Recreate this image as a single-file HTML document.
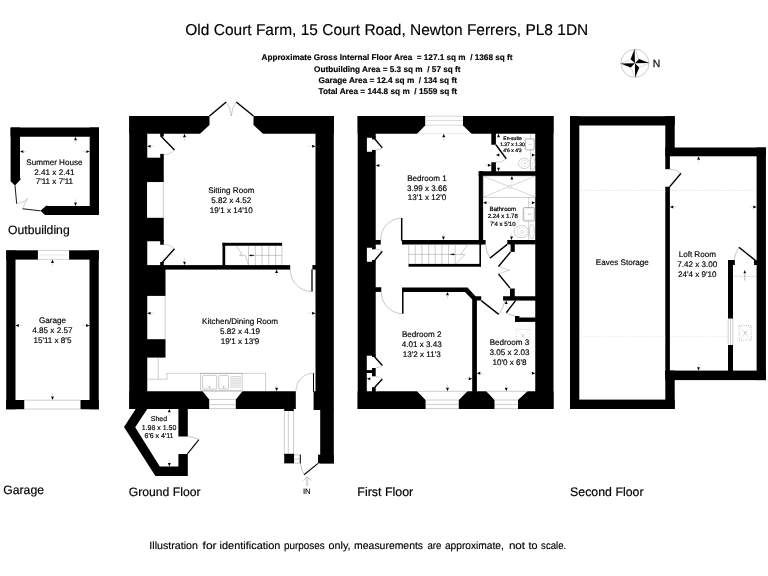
<!DOCTYPE html>
<html lang="en">
<head>
<meta charset="utf-8">
<title>Old Court Farm, 15 Court Road, Newton Ferrers, PL8 1DN - Floor Plan</title>
<style>
html,body{margin:0;padding:0;background:#fff;}
body{width:768px;height:576px;overflow:hidden;}
svg{display:block;font-family:"Liberation Sans",sans-serif;text-rendering:geometricPrecision;will-change:transform;}
</style>
</head>
<body>
<svg width="768" height="576" viewBox="0 0 768 576">
<rect x="0" y="0" width="768" height="576" fill="#fff"/>
<text x="185.3" y="34.8" font-size="15.6" fill="#000" stroke="#000" stroke-width="0.15" textLength="403" lengthAdjust="spacingAndGlyphs">Old Court Farm, 15 Court Road, Newton Ferrers, PL8 1DN</text>
<text x="261.5" y="59.6" font-size="8.2" font-weight="bold" fill="#000" stroke="#000" stroke-width="0.15" textLength="251" lengthAdjust="spacingAndGlyphs" xml:space="preserve">Approximate Gross Internal Floor Area  = 127.1 sq m  / 1368 sq ft</text>
<text x="314.0" y="71.5" font-size="8.2" font-weight="bold" fill="#000" stroke="#000" stroke-width="0.15" textLength="146.6" lengthAdjust="spacingAndGlyphs" xml:space="preserve">Outbuilding Area = 5.3 sq m  / 57 sq ft</text>
<text x="318.5" y="83.1" font-size="8.2" font-weight="bold" fill="#000" stroke="#000" stroke-width="0.15" textLength="138.4" lengthAdjust="spacingAndGlyphs" xml:space="preserve">Garage Area = 12.4 sq m  / 134 sq ft</text>
<text x="318.5" y="94.3" font-size="8.2" font-weight="bold" fill="#000" stroke="#000" stroke-width="0.15" textLength="138.6" lengthAdjust="spacingAndGlyphs" xml:space="preserve">Total Area = 144.8 sq m  / 1559 sq ft</text>
<g transform="rotate(-1 634.9 63.3)">
<circle cx="634.9" cy="63.3" r="14" fill="none" stroke="#999" stroke-width="0.5"/>
<polygon points="634.90,49.10 639.07,59.13 649.10,63.30 639.07,67.47 634.90,77.50 630.73,67.47 620.70,63.30 630.73,59.13" fill="#fff" stroke="#999" stroke-width="0.35"/>
<polygon points="634.90,49.10 630.73,59.13 634.90,63.30" fill="#000" />
<polygon points="649.10,63.30 639.07,59.13 634.90,63.30" fill="#000" />
<polygon points="634.90,77.50 639.07,67.47 634.90,63.30" fill="#000" />
<polygon points="620.70,63.30 630.73,67.47 634.90,63.30" fill="#000" />
</g>
<text x="652.7" y="67.1" font-size="10.4" fill="#222" stroke="#222" stroke-width="0.3">N</text>
<polygon points="10.60,127.50 99.00,127.50 99.00,136.75 10.60,136.75" fill="#000" />
<rect x="89.70" y="127.50" width="9.30" height="87.50" fill="#000" />
<polygon points="10.60,127.50 20.00,127.50 20.00,178.00 20.80,179.20 15.00,185.40 10.60,181.25" fill="#000" />
<polygon points="99.00,206.00 47.50,206.00 46.50,205.40 40.40,210.80 45.00,215.00 99.00,215.00" fill="#000" />
<line x1="15.00" y1="185.40" x2="16.70" y2="203.75" stroke="#000" stroke-width="0.9" />
<line x1="22.50" y1="208.75" x2="40.40" y2="210.80" stroke="#000" stroke-width="0.9" />
<polyline points="16.70,203.75 24.50,201.40 27.50,198.30 22.50,208.75" fill="none" stroke="#888" stroke-width="0.4" />
<polygon points="75.50,136.75 74.05,140.15 76.95,140.15" fill="#000" />
<line x1="75.50" y1="140.15" x2="75.50" y2="143.75" stroke="#c4c4c4" stroke-width="0.5" />
<polygon points="75.50,206.00 74.05,202.60 76.95,202.60" fill="#000" />
<line x1="75.50" y1="202.60" x2="75.50" y2="199.00" stroke="#c4c4c4" stroke-width="0.5" />
<polygon points="20.00,151.60 23.40,150.15 23.40,153.05" fill="#000" />
<line x1="23.40" y1="151.60" x2="27.00" y2="151.60" stroke="#c4c4c4" stroke-width="0.5" />
<polygon points="89.70,151.60 86.30,150.15 86.30,153.05" fill="#000" />
<line x1="86.30" y1="151.60" x2="82.70" y2="151.60" stroke="#c4c4c4" stroke-width="0.5" />
<text x="54.40" y="164.50" font-size="8.1" text-anchor="middle" font-weight="normal" fill="#000" stroke="#000" stroke-width="0.16">Summer House</text>
<text x="54.40" y="175.00" font-size="8.1" text-anchor="middle" font-weight="normal" fill="#000" stroke="#000" stroke-width="0.16">2.41 x 2.41</text>
<text x="54.40" y="183.90" font-size="8.1" text-anchor="middle" font-weight="normal" fill="#000" stroke="#000" stroke-width="0.16">7'11 x 7'11</text>
<text x="8.0" y="233.8" font-size="12.2" fill="#000" stroke="#000" stroke-width="0.18">Outbuilding</text>
<rect x="6.25" y="250.50" width="9.25" height="158.75" fill="#000" />
<rect x="89.50" y="250.50" width="9.25" height="158.75" fill="#000" />
<rect x="6.25" y="250.30" width="31.65" height="9.30" fill="#000" />
<rect x="69.10" y="250.30" width="29.65" height="9.30" fill="#000" />
<rect x="6.25" y="400.00" width="18.00" height="9.25" fill="#000" />
<rect x="80.50" y="400.00" width="18.25" height="9.25" fill="#000" />
<line x1="37.90" y1="250.50" x2="69.10" y2="250.50" stroke="#a8a8a8" stroke-width="0.5" />
<line x1="37.90" y1="259.40" x2="69.10" y2="259.40" stroke="#a8a8a8" stroke-width="0.5" />
<line x1="39.00" y1="254.90" x2="68.00" y2="254.90" stroke="#e4e4e4" stroke-width="0.8" />
<line x1="24.25" y1="400.20" x2="80.50" y2="400.20" stroke="#9a9a9a" stroke-width="0.5" />
<line x1="24.25" y1="409.00" x2="80.50" y2="409.00" stroke="#9a9a9a" stroke-width="0.5" />
<polygon points="52.50,259.50 51.05,262.90 53.95,262.90" fill="#000" />
<line x1="52.50" y1="262.90" x2="52.50" y2="266.50" stroke="#c4c4c4" stroke-width="0.5" />
<polygon points="52.50,400.00 51.05,396.60 53.95,396.60" fill="#000" />
<line x1="52.50" y1="396.60" x2="52.50" y2="393.00" stroke="#c4c4c4" stroke-width="0.5" />
<polygon points="15.50,325.50 18.90,324.05 18.90,326.95" fill="#000" />
<line x1="18.90" y1="325.50" x2="22.50" y2="325.50" stroke="#c4c4c4" stroke-width="0.5" />
<polygon points="89.50,325.50 86.10,324.05 86.10,326.95" fill="#000" />
<line x1="86.10" y1="325.50" x2="82.50" y2="325.50" stroke="#c4c4c4" stroke-width="0.5" />
<text x="52.40" y="322.50" font-size="8.1" text-anchor="middle" font-weight="normal" fill="#000" stroke="#000" stroke-width="0.16">Garage</text>
<text x="52.40" y="333.20" font-size="8.1" text-anchor="middle" font-weight="normal" fill="#000" stroke="#000" stroke-width="0.16">4.85 x 2.57</text>
<text x="52.40" y="343.20" font-size="8.1" text-anchor="middle" font-weight="normal" fill="#000" stroke="#000" stroke-width="0.16">15'11 x 8'5</text>
<text x="3.3" y="494" font-size="12.2" fill="#000" stroke="#000" stroke-width="0.18">Garage</text>
<rect x="129.25" y="116.00" width="18.00" height="292.90" fill="#000" />
<rect x="147.00" y="157.70" width="16.75" height="24.50" fill="#000" />
<rect x="147.00" y="217.60" width="16.75" height="23.65" fill="#000" />
<rect x="147.00" y="268.00" width="18.50" height="27.90" fill="#000" />
<rect x="147.00" y="339.20" width="18.50" height="18.40" fill="#000" />
<polygon points="129.25,116.00 209.50,116.00 209.50,125.00 200.00,133.75 129.25,133.75" fill="#000" />
<polygon points="253.50,116.00 333.80,116.00 333.80,133.75 263.00,133.75 253.50,125.00" fill="#000" />
<rect x="315.50" y="116.00" width="18.30" height="276.50" fill="#000" />
<rect x="313.60" y="391.30" width="20.20" height="18.70" fill="#000" />
<rect x="320.20" y="408.90" width="13.60" height="54.50" fill="#000" />
<rect x="318.00" y="454.70" width="15.80" height="8.70" fill="#000" />
<polygon points="129.25,391.25 202.50,391.25 209.20,399.40 209.20,408.90 129.25,408.90" fill="#000" />
<polygon points="242.50,391.25 295.80,391.25 295.80,408.90 293.80,408.90 293.80,411.00 284.20,411.00 284.20,408.90 235.80,408.90 235.80,399.40" fill="#000" />
<rect x="147.00" y="265.10" width="143.20" height="4.50" fill="#000" />
<rect x="222.50" y="242.80" width="59.60" height="2.95" fill="#000" />
<rect x="222.50" y="242.80" width="2.70" height="23.70" fill="#000" />
<line x1="248.50" y1="245.75" x2="248.50" y2="265.10" stroke="#9a9a9a" stroke-width="0.5" />
<line x1="255.30" y1="245.75" x2="255.30" y2="265.10" stroke="#9a9a9a" stroke-width="0.5" />
<line x1="262.00" y1="245.75" x2="262.00" y2="265.10" stroke="#9a9a9a" stroke-width="0.5" />
<line x1="268.80" y1="245.75" x2="268.80" y2="265.10" stroke="#9a9a9a" stroke-width="0.5" />
<line x1="275.60" y1="245.75" x2="275.60" y2="265.10" stroke="#9a9a9a" stroke-width="0.5" />
<line x1="281.90" y1="245.75" x2="281.90" y2="265.10" stroke="#9a9a9a" stroke-width="0.5" />
<line x1="248.50" y1="255.40" x2="282.10" y2="255.40" stroke="#9a9a9a" stroke-width="0.5" />
<polyline points="236.30,245.75 242.00,254.20 239.50,255.40 245.30,255.40 248.50,265.10" fill="none" stroke="#9a9a9a" stroke-width="0.5" />
<polygon points="249.00,255.40 251.60,254.30 251.60,256.50" fill="#000" />
<line x1="251.60" y1="255.40" x2="253.80" y2="255.40" stroke="#000" stroke-width="0.9" />
<rect x="312.40" y="265.10" width="4.60" height="4.50" fill="#000" />
<line x1="312.00" y1="269.60" x2="312.00" y2="291.50" stroke="#000" stroke-width="1.3" />
<path d="M290.20,269.60 A21.80,21.80 0 0 0 312.00,291.50" fill="none" stroke="#858585" stroke-width="0.45" />
<line x1="209.50" y1="116.00" x2="226.25" y2="102.00" stroke="#000" stroke-width="1.5" />
<line x1="253.50" y1="116.00" x2="236.25" y2="102.00" stroke="#000" stroke-width="1.5" />
<path d="M226.25,102 Q230.6,107 231.3,116" fill="none" stroke="#8a8a8a" stroke-width="0.45" />
<path d="M236.25,102 Q232.0,107 231.3,116" fill="none" stroke="#8a8a8a" stroke-width="0.45" />
<rect x="160.20" y="132.00" width="3.55" height="4.50" fill="#000" />
<line x1="160.80" y1="136.00" x2="174.50" y2="150.00" stroke="#000" stroke-width="1.4" />
<path d="M174.50,150.00 A15.00,15.00 0 0 1 163.75,154.80" fill="none" stroke="#a0a0a0" stroke-width="0.45" />
<rect x="160.20" y="153.90" width="3.55" height="5.10" fill="#000" />
<rect x="160.20" y="262.00" width="3.55" height="4.50" fill="#000" />
<line x1="161.30" y1="263.50" x2="174.50" y2="248.75" stroke="#000" stroke-width="1.4" />
<path d="M174.50,248.75 A15.00,15.00 0 0 0 163.75,244.30" fill="none" stroke="#a0a0a0" stroke-width="0.45" />
<rect x="160.20" y="240.00" width="3.55" height="4.80" fill="#000" />
<rect x="147.20" y="182.20" width="16.70" height="35.40" fill="#fff" />
<line x1="163.60" y1="182.20" x2="163.60" y2="217.60" stroke="#b0b0b0" stroke-width="0.6" />
<line x1="162.30" y1="183.00" x2="162.30" y2="217.00" stroke="#e2e2e2" stroke-width="0.6" />
<line x1="147.50" y1="217.30" x2="163.90" y2="217.30" stroke="#c8c8c8" stroke-width="0.5" />
<line x1="165.20" y1="295.90" x2="165.20" y2="339.20" stroke="#9a9a9a" stroke-width="0.5" />
<polyline points="158.30,357.60 158.30,379.20" fill="none" stroke="#9a9a9a" stroke-width="0.5" />
<polyline points="147.70,379.20 167.10,379.20 167.10,373.30 265.60,373.30 265.60,391.25" fill="none" stroke="#9a9a9a" stroke-width="0.5" />
<rect x="200.80" y="373.30" width="41.30" height="16.90" fill="none" stroke="#9a9a9a" stroke-width="0.5"/>
<rect x="202.60" y="375.40" width="14.10" height="13.60" fill="none" stroke="#9a9a9a" stroke-width="0.5" rx="1"/>
<rect x="218.80" y="375.40" width="9.70" height="13.60" fill="none" stroke="#9a9a9a" stroke-width="0.5" rx="1"/>
<line x1="230.20" y1="376.70" x2="241.00" y2="376.70" stroke="#9a9a9a" stroke-width="0.5" />
<line x1="230.20" y1="378.80" x2="241.00" y2="378.80" stroke="#9a9a9a" stroke-width="0.5" />
<line x1="230.20" y1="380.90" x2="241.00" y2="380.90" stroke="#9a9a9a" stroke-width="0.5" />
<line x1="230.20" y1="383.00" x2="241.00" y2="383.00" stroke="#9a9a9a" stroke-width="0.5" />
<line x1="230.20" y1="385.10" x2="241.00" y2="385.10" stroke="#9a9a9a" stroke-width="0.5" />
<line x1="230.20" y1="387.20" x2="241.00" y2="387.20" stroke="#9a9a9a" stroke-width="0.5" />
<circle cx="209.6" cy="387" r="0.7" fill="none" stroke="#777" stroke-width="0.4"/>
<circle cx="223.6" cy="387" r="0.7" fill="none" stroke="#777" stroke-width="0.4"/>
<line x1="209.20" y1="399.40" x2="235.80" y2="399.40" stroke="#9a9a9a" stroke-width="0.5" />
<line x1="209.20" y1="404.60" x2="235.80" y2="404.60" stroke="#9a9a9a" stroke-width="0.5" />
<line x1="209.20" y1="408.60" x2="235.80" y2="408.60" stroke="#9a9a9a" stroke-width="0.5" />
<line x1="202.50" y1="391.30" x2="242.50" y2="391.30" stroke="#9a9a9a" stroke-width="0.5" />
<line x1="313.50" y1="373.10" x2="313.50" y2="392.00" stroke="#000" stroke-width="1.0" />
<path d="M313.50,373.10 A17.80,17.80 0 0 0 296.00,391.25" fill="none" stroke="#8a8a8a" stroke-width="0.45" />
<rect x="284.20" y="411.00" width="9.50" height="42.80" fill="#fff" />
<line x1="284.40" y1="411.00" x2="284.40" y2="453.80" stroke="#9a9a9a" stroke-width="0.5" />
<line x1="288.30" y1="411.00" x2="288.30" y2="453.80" stroke="#9a9a9a" stroke-width="0.5" />
<line x1="293.50" y1="411.00" x2="293.50" y2="453.80" stroke="#9a9a9a" stroke-width="0.5" />
<rect x="284.20" y="453.80" width="10.00" height="9.60" fill="#000" />
<rect x="294.20" y="454.70" width="6.40" height="8.70" fill="#fff" />
<line x1="294.20" y1="454.90" x2="300.60" y2="454.90" stroke="#9a9a9a" stroke-width="0.5" />
<line x1="294.20" y1="463.20" x2="300.60" y2="463.20" stroke="#9a9a9a" stroke-width="0.5" />
<line x1="294.20" y1="459.00" x2="300.60" y2="459.00" stroke="#9a9a9a" stroke-width="0.5" />
<line x1="300.30" y1="454.70" x2="300.30" y2="463.40" stroke="#000" stroke-width="1.0" />
<line x1="318.00" y1="463.40" x2="304.10" y2="474.70" stroke="#000" stroke-width="1.1" />
<path d="M300.6,463.4 Q301,470 304.1,474.7" fill="none" stroke="#858585" stroke-width="0.5" />
<polyline points="303.30,480.60 307.20,476.70 311.10,480.60" fill="none" stroke="#999" stroke-width="0.6" />
<line x1="306.60" y1="477.50" x2="306.60" y2="486.30" stroke="#aaa" stroke-width="0.5" />
<line x1="307.80" y1="477.50" x2="307.80" y2="486.30" stroke="#aaa" stroke-width="0.5" />
<text x="306.8" y="493.9" font-size="7.8" text-anchor="middle" fill="#000" stroke="#000" stroke-width="0.1">IN</text>
<polygon points="135.70,408.90 124.00,427.00 155.40,475.90 187.80,475.90 187.80,454.00 178.40,454.00 178.40,466.40 159.80,466.40 135.20,427.20 147.30,408.90" fill="#000" />
<rect x="178.40" y="407.00" width="9.40" height="29.50" fill="#000" />
<line x1="198.90" y1="439.70" x2="187.40" y2="453.90" stroke="#000" stroke-width="1.1" />
<path d="M187.8,436.5 Q194,436.7 198.9,439.7" fill="none" stroke="#858585" stroke-width="0.5" />
<polygon points="169.30,408.90 167.85,412.30 170.75,412.30" fill="#000" />
<line x1="169.30" y1="412.30" x2="169.30" y2="415.90" stroke="#c4c4c4" stroke-width="0.5" />
<polygon points="169.30,466.40 167.85,463.00 170.75,463.00" fill="#000" />
<line x1="169.30" y1="463.00" x2="169.30" y2="459.40" stroke="#c4c4c4" stroke-width="0.5" />
<text x="159.00" y="420.70" font-size="7.0" text-anchor="middle" font-weight="normal" fill="#000" stroke="#000" stroke-width="0.16">Shed</text>
<text x="159.00" y="429.80" font-size="7.0" text-anchor="middle" font-weight="normal" fill="#000" stroke="#000" stroke-width="0.16">1.98 x 1.50</text>
<text x="159.00" y="438.30" font-size="7.0" text-anchor="middle" font-weight="normal" fill="#000" stroke="#000" stroke-width="0.16">6'6 x 4'11</text>
<polygon points="184.50,133.75 183.05,137.15 185.95,137.15" fill="#000" />
<line x1="184.50" y1="137.15" x2="184.50" y2="140.75" stroke="#c4c4c4" stroke-width="0.5" />
<polygon points="184.50,265.10 183.05,261.70 185.95,261.70" fill="#000" />
<line x1="184.50" y1="261.70" x2="184.50" y2="258.10" stroke="#c4c4c4" stroke-width="0.5" />
<polygon points="147.25,146.25 150.65,144.80 150.65,147.70" fill="#000" />
<line x1="150.65" y1="146.25" x2="154.25" y2="146.25" stroke="#c4c4c4" stroke-width="0.5" />
<polygon points="315.50,146.25 312.10,144.80 312.10,147.70" fill="#000" />
<line x1="312.10" y1="146.25" x2="308.50" y2="146.25" stroke="#c4c4c4" stroke-width="0.5" />
<polygon points="276.60,269.60 275.15,273.00 278.05,273.00" fill="#000" />
<line x1="276.60" y1="273.00" x2="276.60" y2="276.60" stroke="#c4c4c4" stroke-width="0.5" />
<polygon points="276.60,391.25 275.15,387.85 278.05,387.85" fill="#000" />
<line x1="276.60" y1="387.85" x2="276.60" y2="384.25" stroke="#c4c4c4" stroke-width="0.5" />
<polygon points="147.25,313.20 150.65,311.75 150.65,314.65" fill="#000" />
<line x1="150.65" y1="313.20" x2="154.25" y2="313.20" stroke="#c4c4c4" stroke-width="0.5" />
<polygon points="315.50,313.20 312.10,311.75 312.10,314.65" fill="#000" />
<line x1="312.10" y1="313.20" x2="308.50" y2="313.20" stroke="#c4c4c4" stroke-width="0.5" />
<text x="231.30" y="193.00" font-size="8.1" text-anchor="middle" font-weight="normal" fill="#000" stroke="#000" stroke-width="0.16">Sitting Room</text>
<text x="231.30" y="203.00" font-size="8.1" text-anchor="middle" font-weight="normal" fill="#000" stroke="#000" stroke-width="0.16">5.82 x 4.52</text>
<text x="231.30" y="213.00" font-size="8.1" text-anchor="middle" font-weight="normal" fill="#000" stroke="#000" stroke-width="0.16">19'1 x 14'10</text>
<text x="240.00" y="323.70" font-size="8.1" text-anchor="middle" font-weight="normal" fill="#000" stroke="#000" stroke-width="0.16">Kitchen/Dining Room</text>
<text x="240.00" y="334.00" font-size="8.1" text-anchor="middle" font-weight="normal" fill="#000" stroke="#000" stroke-width="0.16">5.82 x 4.19</text>
<text x="240.00" y="343.50" font-size="8.1" text-anchor="middle" font-weight="normal" fill="#000" stroke="#000" stroke-width="0.16">19'1 x 13'9</text>
<text x="128.7" y="495.7" font-size="12.2" fill="#000" stroke="#000" stroke-width="0.18">Ground Floor</text>
<rect x="357.70" y="116.00" width="18.00" height="292.90" fill="#000" />
<rect x="535.25" y="116.00" width="18.25" height="292.90" fill="#000" />
<polygon points="357.60,116.00 425.20,116.00 425.20,125.50 417.00,133.75 357.60,133.75" fill="#000" />
<polygon points="463.00,116.00 553.50,116.00 553.50,133.75 471.50,133.75 463.00,125.50" fill="#000" />
<polygon points="357.60,391.25 417.00,391.25 425.60,400.00 425.60,408.90 357.60,408.90" fill="#000" />
<polygon points="467.50,391.25 486.25,391.25 494.50,400.00 494.50,408.90 458.75,408.90 458.75,400.00" fill="#000" />
<polygon points="527.50,391.25 553.50,391.25 553.50,408.90 518.00,408.90 518.00,400.00" fill="#000" />
<line x1="425.20" y1="116.20" x2="463.00" y2="116.20" stroke="#a8a8a8" stroke-width="0.5" />
<line x1="425.20" y1="120.50" x2="463.00" y2="120.50" stroke="#dcdcdc" stroke-width="1.0" />
<line x1="425.20" y1="125.20" x2="463.00" y2="125.20" stroke="#b4b4b4" stroke-width="0.5" />
<line x1="417.00" y1="133.60" x2="471.50" y2="133.60" stroke="#d0d0d0" stroke-width="0.5" />
<line x1="425.60" y1="400.00" x2="458.75" y2="400.00" stroke="#9a9a9a" stroke-width="0.5" />
<line x1="494.50" y1="400.00" x2="518.00" y2="400.00" stroke="#9a9a9a" stroke-width="0.5" />
<line x1="425.60" y1="404.40" x2="458.75" y2="404.40" stroke="#9a9a9a" stroke-width="0.5" />
<line x1="494.50" y1="404.40" x2="518.00" y2="404.40" stroke="#9a9a9a" stroke-width="0.5" />
<line x1="425.60" y1="408.60" x2="458.75" y2="408.60" stroke="#9a9a9a" stroke-width="0.5" />
<line x1="494.50" y1="408.60" x2="518.00" y2="408.60" stroke="#9a9a9a" stroke-width="0.5" />
<line x1="417.00" y1="391.30" x2="467.50" y2="391.30" stroke="#9a9a9a" stroke-width="0.5" />
<line x1="486.25" y1="391.30" x2="527.50" y2="391.30" stroke="#9a9a9a" stroke-width="0.5" />
<rect x="366.90" y="137.75" width="10.10" height="14.00" fill="#fff" />
<rect x="372.00" y="136.50" width="3.70" height="2.90" fill="#000" />
<rect x="372.00" y="149.90" width="3.70" height="2.60" fill="#000" />
<line x1="374.80" y1="139.00" x2="382.30" y2="147.90" stroke="#000" stroke-width="1.4" />
<path d="M382.3,147.9 Q379.5,149.6 375.8,150" fill="none" stroke="#9a9a9a" stroke-width="0.45" />
<rect x="491.30" y="132.00" width="4.60" height="12.75" fill="#000" />
<rect x="491.30" y="162.25" width="4.60" height="10.75" fill="#000" />
<rect x="478.75" y="171.25" width="57.75" height="4.75" fill="#000" />
<rect x="478.75" y="171.25" width="4.35" height="73.15" fill="#000" />
<line x1="495.90" y1="144.75" x2="506.25" y2="158.75" stroke="#000" stroke-width="1.4" />
<path d="M506.25,158.75 A12.00,12.00 0 0 1 495.90,162.25" fill="none" stroke="#909090" stroke-width="0.45" />
<rect x="401.90" y="240.00" width="83.70" height="4.50" fill="#000" />
<rect x="374.50" y="240.00" width="6.25" height="4.60" fill="#000" />
<line x1="401.70" y1="218.00" x2="401.70" y2="240.60" stroke="#000" stroke-width="1.5" />
<path d="M401.00,218.00 A21.50,21.50 0 0 0 380.75,240.00" fill="none" stroke="#858585" stroke-width="0.45" />
<rect x="408.50" y="263.90" width="72.50" height="2.80" fill="#000" />
<rect x="479.40" y="243.00" width="1.60" height="23.50" fill="#000" />
<line x1="408.70" y1="244.50" x2="408.70" y2="263.90" stroke="#9a9a9a" stroke-width="0.5" />
<line x1="415.30" y1="244.50" x2="415.30" y2="263.90" stroke="#9a9a9a" stroke-width="0.5" />
<line x1="421.90" y1="244.50" x2="421.90" y2="263.90" stroke="#9a9a9a" stroke-width="0.5" />
<line x1="428.60" y1="244.50" x2="428.60" y2="263.90" stroke="#9a9a9a" stroke-width="0.5" />
<line x1="435.20" y1="244.50" x2="435.20" y2="263.90" stroke="#9a9a9a" stroke-width="0.5" />
<line x1="441.90" y1="244.50" x2="441.90" y2="263.90" stroke="#9a9a9a" stroke-width="0.5" />
<line x1="448.50" y1="244.50" x2="448.50" y2="263.90" stroke="#9a9a9a" stroke-width="0.5" />
<line x1="455.20" y1="244.50" x2="455.20" y2="263.90" stroke="#9a9a9a" stroke-width="0.5" />
<line x1="408.50" y1="254.40" x2="460.60" y2="254.40" stroke="#9a9a9a" stroke-width="0.5" />
<polyline points="468.00,244.40 460.60,254.40 465.00,254.40 455.60,263.90" fill="none" stroke="#9a9a9a" stroke-width="0.5" />
<polygon points="455.20,254.40 452.60,253.30 452.60,255.50" fill="#000" />
<line x1="450.40" y1="254.40" x2="452.60" y2="254.40" stroke="#000" stroke-width="0.9" />
<rect x="366.90" y="247.75" width="10.10" height="14.00" fill="#fff" />
<rect x="372.00" y="247.00" width="3.70" height="2.30" fill="#000" />
<rect x="372.00" y="260.00" width="3.70" height="2.50" fill="#000" />
<line x1="374.80" y1="260.30" x2="382.30" y2="251.30" stroke="#000" stroke-width="1.4" />
<path d="M382.3,251.3 Q379.5,249.6 375.8,249.3" fill="none" stroke="#9a9a9a" stroke-width="0.45" />
<rect x="507.25" y="240.00" width="29.25" height="4.40" fill="#000" />
<rect x="510.60" y="243.00" width="4.15" height="8.90" fill="#000" />
<line x1="507.25" y1="244.40" x2="490.00" y2="258.10" stroke="#000" stroke-width="1.4" />
<path d="M485.6,244.4 Q486,252 490,258.1" fill="none" stroke="#858585" stroke-width="0.5" />
<line x1="510.60" y1="251.90" x2="498.50" y2="266.50" stroke="#000" stroke-width="1.4" />
<line x1="498.50" y1="274.00" x2="510.00" y2="288.10" stroke="#000" stroke-width="1.4" />
<polyline points="498.50,266.50 509.40,270.25 498.50,274.00" fill="none" stroke="#888" stroke-width="0.4" />
<rect x="510.00" y="288.50" width="4.75" height="9.00" fill="#000" />
<rect x="503.10" y="296.25" width="33.40" height="4.35" fill="#000" />
<rect x="374.50" y="287.25" width="6.75" height="4.65" fill="#000" />
<line x1="402.80" y1="291.90" x2="402.80" y2="313.75" stroke="#000" stroke-width="1.5" />
<path d="M381.25,291.90 A21.80,21.80 0 0 0 402.00,313.75" fill="none" stroke="#858585" stroke-width="0.45" />
<polygon points="402.00,287.40 467.50,287.40 475.60,296.25 481.25,296.25 481.25,300.60 476.90,300.60 476.90,393.00 472.20,393.00 472.20,299.40 465.00,291.90 402.00,291.90" fill="#000" />
<line x1="481.25" y1="300.60" x2="498.75" y2="314.40" stroke="#000" stroke-width="1.4" />
<path d="M498.75,314.4 Q503.5,308 505,300.6" fill="none" stroke="#858585" stroke-width="0.5" />
<line x1="515.60" y1="300.60" x2="506.25" y2="312.75" stroke="#000" stroke-width="1.4" />
<path d="M506.25,312.75 Q510,315.5 515,315.8" fill="none" stroke="#858585" stroke-width="0.5" />
<rect x="515.00" y="316.00" width="4.40" height="5.90" fill="#000" />
<rect x="515.00" y="317.50" width="21.50" height="4.40" fill="#000" />
<rect x="516.20" y="329.30" width="13.70" height="13.70" fill="none" stroke="#aaaaaa" stroke-width="0.55" stroke-dasharray="0.8 1.45"/>
<line x1="516.20" y1="329.30" x2="529.90" y2="343.00" stroke="#d4d4d4" stroke-width="0.4" />
<line x1="529.90" y1="329.30" x2="516.20" y2="343.00" stroke="#d4d4d4" stroke-width="0.4" />
<line x1="521.60" y1="334.20" x2="524.60" y2="337.60" stroke="#b8b8b8" stroke-width="0.5" />
<line x1="524.60" y1="334.20" x2="521.60" y2="337.60" stroke="#b8b8b8" stroke-width="0.5" />
<rect x="366.80" y="355.70" width="10.20" height="35.55" fill="#fff" />
<rect x="365.50" y="370.10" width="7.50" height="2.90" fill="#000" />
<rect x="372.00" y="368.00" width="3.70" height="8.30" fill="#000" />
<rect x="372.00" y="354.60" width="3.70" height="2.40" fill="#000" />
<rect x="372.00" y="387.20" width="3.70" height="5.30" fill="#000" />
<line x1="374.50" y1="356.80" x2="382.40" y2="365.50" stroke="#000" stroke-width="1.4" />
<path d="M382.4,365.5 Q379.5,367.6 375.8,368" fill="none" stroke="#9a9a9a" stroke-width="0.45" />
<line x1="374.50" y1="387.50" x2="382.40" y2="379.00" stroke="#000" stroke-width="1.4" />
<path d="M382.4,379 Q379.5,376.8 375.8,376.4" fill="none" stroke="#9a9a9a" stroke-width="0.45" />
<rect x="483.10" y="176.00" width="52.15" height="21.20" fill="none" stroke="#9a9a9a" stroke-width="0.5"/>
<line x1="483.10" y1="176.00" x2="535.25" y2="197.20" stroke="#9a9a9a" stroke-width="0.4" />
<line x1="535.25" y1="176.00" x2="483.10" y2="197.20" stroke="#9a9a9a" stroke-width="0.4" />
<circle cx="510" cy="186.6" r="1.6" fill="#fff" stroke="#999" stroke-width="0.4"/>
<line x1="528.60" y1="197.20" x2="528.60" y2="240.00" stroke="#a8a8a8" stroke-width="0.5" />
<rect x="523.20" y="207.50" width="11.40" height="13.50" fill="#fff" stroke="#909090" stroke-width="0.7" rx="1.2"/>
<rect x="524.40" y="208.70" width="9.20" height="11.10" fill="none" stroke="#c8c8c8" stroke-width="0.4" rx="0.8"/>
<line x1="528.20" y1="214.20" x2="532.40" y2="214.20" stroke="#999" stroke-width="0.4" />
<polyline points="528.20,212.60 529.80,214.20 528.20,215.80" fill="none" stroke="#aaa" stroke-width="0.4" />
<ellipse cx="521.3" cy="231.6" rx="7.3" ry="6.1" fill="#fff" stroke="#a0a0a0" stroke-width="0.5"/>
<ellipse cx="521.8" cy="231.6" rx="4.7" ry="4.0" fill="none" stroke="#c0c0c0" stroke-width="0.4"/>
<circle cx="522.2" cy="231.8" r="1.4" fill="none" stroke="#aaa" stroke-width="0.4"/>
<ellipse cx="531.8" cy="231.6" rx="2.5" ry="7.3" fill="#fff" stroke="#a0a0a0" stroke-width="0.5"/>
<circle cx="531.8" cy="231.8" r="0.4" fill="#666"/>
<line x1="530.50" y1="133.75" x2="530.50" y2="171.25" stroke="#a8a8a8" stroke-width="0.5" />
<rect x="525.30" y="138.90" width="8.90" height="11.00" fill="#fff" stroke="#909090" stroke-width="0.7" rx="1"/>
<line x1="528.60" y1="144.40" x2="531.60" y2="144.40" stroke="#999" stroke-width="0.4" />
<ellipse cx="524.3" cy="163.4" rx="5.8" ry="5.2" fill="#fff" stroke="#a0a0a0" stroke-width="0.5"/>
<ellipse cx="524.6" cy="163.4" rx="3.6" ry="3.2" fill="none" stroke="#c4c4c4" stroke-width="0.4"/>
<circle cx="524.7" cy="163.4" r="0.9" fill="none" stroke="#aaa" stroke-width="0.4"/>
<ellipse cx="532.7" cy="163.4" rx="2.2" ry="6.6" fill="#fff" stroke="#a0a0a0" stroke-width="0.5"/>
<circle cx="532.7" cy="163.4" r="0.4" fill="#666"/>
<polygon points="443.75,133.75 442.30,137.15 445.20,137.15" fill="#000" />
<line x1="443.75" y1="137.15" x2="443.75" y2="140.75" stroke="#c4c4c4" stroke-width="0.5" />
<polygon points="443.40,240.00 441.95,236.60 444.85,236.60" fill="#000" />
<line x1="443.40" y1="236.60" x2="443.40" y2="233.00" stroke="#c4c4c4" stroke-width="0.5" />
<polygon points="375.90,165.50 379.30,164.05 379.30,166.95" fill="#000" />
<line x1="379.30" y1="165.50" x2="382.90" y2="165.50" stroke="#c4c4c4" stroke-width="0.5" />
<polygon points="491.30,165.20 487.90,163.75 487.90,166.65" fill="#000" />
<line x1="487.90" y1="165.20" x2="484.30" y2="165.20" stroke="#c4c4c4" stroke-width="0.5" />
<polygon points="498.50,133.75 497.05,137.15 499.95,137.15" fill="#000" />
<line x1="498.50" y1="137.15" x2="498.50" y2="138.75" stroke="#c4c4c4" stroke-width="0.5" />
<polygon points="498.50,171.25 497.05,167.85 499.95,167.85" fill="#000" />
<line x1="498.50" y1="167.85" x2="498.50" y2="166.25" stroke="#c4c4c4" stroke-width="0.5" />
<polygon points="495.90,155.00 499.30,153.55 499.30,156.45" fill="#000" />
<line x1="499.30" y1="155.00" x2="500.90" y2="155.00" stroke="#c4c4c4" stroke-width="0.5" />
<polygon points="535.25,155.00 531.85,153.55 531.85,156.45" fill="#000" />
<line x1="531.85" y1="155.00" x2="530.25" y2="155.00" stroke="#c4c4c4" stroke-width="0.5" />
<polygon points="511.90,176.00 510.45,179.40 513.35,179.40" fill="#000" />
<line x1="511.90" y1="179.40" x2="511.90" y2="183.00" stroke="#c4c4c4" stroke-width="0.5" />
<polygon points="511.50,240.00 510.05,236.60 512.95,236.60" fill="#000" />
<line x1="511.50" y1="236.60" x2="511.50" y2="233.00" stroke="#c4c4c4" stroke-width="0.5" />
<polygon points="483.10,202.75 486.50,201.30 486.50,204.20" fill="#000" />
<line x1="486.50" y1="202.75" x2="490.10" y2="202.75" stroke="#c4c4c4" stroke-width="0.5" />
<polygon points="535.25,202.75 531.85,201.30 531.85,204.20" fill="#000" />
<line x1="531.85" y1="202.75" x2="528.25" y2="202.75" stroke="#c4c4c4" stroke-width="0.5" />
<polygon points="447.50,291.90 446.05,295.30 448.95,295.30" fill="#000" />
<line x1="447.50" y1="295.30" x2="447.50" y2="298.90" stroke="#c4c4c4" stroke-width="0.5" />
<polygon points="447.50,391.25 446.05,387.85 448.95,387.85" fill="#000" />
<line x1="447.50" y1="387.85" x2="447.50" y2="384.25" stroke="#c4c4c4" stroke-width="0.5" />
<polygon points="366.90,378.75 370.30,377.30 370.30,380.20" fill="#000" />
<line x1="370.30" y1="378.75" x2="371.90" y2="378.75" stroke="#c4c4c4" stroke-width="0.5" />
<polygon points="472.20,378.75 468.80,377.30 468.80,380.20" fill="#000" />
<line x1="468.80" y1="378.75" x2="465.20" y2="378.75" stroke="#c4c4c4" stroke-width="0.5" />
<polygon points="506.25,300.60 504.80,304.00 507.70,304.00" fill="#000" />
<line x1="506.25" y1="304.00" x2="506.25" y2="307.60" stroke="#c4c4c4" stroke-width="0.5" />
<polygon points="506.25,391.25 504.80,387.85 507.70,387.85" fill="#000" />
<line x1="506.25" y1="387.85" x2="506.25" y2="384.25" stroke="#c4c4c4" stroke-width="0.5" />
<polygon points="476.90,373.25 480.30,371.80 480.30,374.70" fill="#000" />
<line x1="480.30" y1="373.25" x2="483.90" y2="373.25" stroke="#c4c4c4" stroke-width="0.5" />
<polygon points="535.25,373.25 531.85,371.80 531.85,374.70" fill="#000" />
<line x1="531.85" y1="373.25" x2="528.25" y2="373.25" stroke="#c4c4c4" stroke-width="0.5" />
<text x="427.00" y="180.50" font-size="8.1" text-anchor="middle" font-weight="normal" fill="#000" stroke="#000" stroke-width="0.16">Bedroom 1</text>
<text x="427.00" y="191.00" font-size="8.1" text-anchor="middle" font-weight="normal" fill="#000" stroke="#000" stroke-width="0.16">3.99 x 3.66</text>
<text x="427.00" y="200.40" font-size="8.1" text-anchor="middle" font-weight="normal" fill="#000" stroke="#000" stroke-width="0.16">13'1 x 12'0</text>
<text x="512.50" y="139.80" font-size="5.0" text-anchor="middle" font-weight="normal" fill="#000" stroke="#000" stroke-width="0.22">En-suite</text>
<text x="512.50" y="145.70" font-size="5.0" text-anchor="middle" font-weight="normal" fill="#000" stroke="#000" stroke-width="0.22">1.37 x 1.30</text>
<text x="512.50" y="151.90" font-size="5.0" text-anchor="middle" font-weight="normal" fill="#000" stroke="#000" stroke-width="0.22">4'6 x 4'3</text>
<text x="502.80" y="210.60" font-size="6.1" text-anchor="middle" font-weight="normal" fill="#000" stroke="#000" stroke-width="0.2">Bathroom</text>
<text x="502.80" y="218.10" font-size="6.1" text-anchor="middle" font-weight="normal" fill="#000" stroke="#000" stroke-width="0.2">2.24 x 1.78</text>
<text x="502.80" y="225.60" font-size="6.1" text-anchor="middle" font-weight="normal" fill="#000" stroke="#000" stroke-width="0.2">7'4 x 5'10</text>
<text x="421.70" y="336.90" font-size="8.1" text-anchor="middle" font-weight="normal" fill="#000" stroke="#000" stroke-width="0.16">Bedroom 2</text>
<text x="421.70" y="347.10" font-size="8.1" text-anchor="middle" font-weight="normal" fill="#000" stroke="#000" stroke-width="0.16">4.01 x 3.43</text>
<text x="421.70" y="356.70" font-size="8.1" text-anchor="middle" font-weight="normal" fill="#000" stroke="#000" stroke-width="0.16">13'2 x 11'3</text>
<text x="509.50" y="344.50" font-size="8.1" text-anchor="middle" font-weight="normal" fill="#000" stroke="#000" stroke-width="0.16">Bedroom 3</text>
<text x="509.50" y="355.00" font-size="8.1" text-anchor="middle" font-weight="normal" fill="#000" stroke="#000" stroke-width="0.16">3.05 x 2.03</text>
<text x="509.50" y="364.90" font-size="8.1" text-anchor="middle" font-weight="normal" fill="#000" stroke="#000" stroke-width="0.16">10'0 x 6'8</text>
<text x="357.3" y="496.0" font-size="12.45" fill="#000" stroke="#000" stroke-width="0.18">First Floor</text>
<rect x="570.00" y="116.20" width="9.30" height="292.80" fill="#000" />
<rect x="570.00" y="116.20" width="104.70" height="9.30" fill="#000" />
<rect x="665.30" y="116.20" width="9.40" height="33.80" fill="#000" />
<rect x="665.30" y="147.50" width="100.60" height="8.80" fill="#000" />
<rect x="756.60" y="147.50" width="9.30" height="232.60" fill="#000" />
<rect x="665.30" y="370.60" width="100.60" height="9.50" fill="#000" />
<rect x="665.30" y="370.60" width="9.40" height="38.40" fill="#000" />
<rect x="570.00" y="399.60" width="104.70" height="9.40" fill="#000" />
<rect x="665.30" y="150.00" width="4.60" height="19.20" fill="#000" />
<rect x="665.30" y="186.70" width="4.60" height="188.30" fill="#000" />
<line x1="669.60" y1="186.90" x2="681.00" y2="173.20" stroke="#000" stroke-width="1.4" />
<path d="M669.9,169.2 Q676.5,169.4 681,173.2" fill="none" stroke="#8a8a8a" stroke-width="0.45" />
<line x1="579.30" y1="190.40" x2="665.30" y2="190.40" stroke="#bbb" stroke-width="0.5" stroke-dasharray="1 1.2"/>
<line x1="669.90" y1="190.40" x2="756.60" y2="190.40" stroke="#bbb" stroke-width="0.5" stroke-dasharray="1 1.2"/>
<line x1="579.30" y1="336.30" x2="665.30" y2="336.30" stroke="#ccc" stroke-width="0.5" stroke-dasharray="1 1.2"/>
<line x1="669.90" y1="336.30" x2="728.50" y2="336.30" stroke="#ccc" stroke-width="0.5" stroke-dasharray="1 1.2"/>
<rect x="728.00" y="260.00" width="5.00" height="58.75" fill="#000" />
<rect x="728.00" y="260.00" width="6.80" height="5.00" fill="#000" />
<rect x="728.00" y="345.00" width="5.00" height="27.00" fill="#000" />
<rect x="728.00" y="318.75" width="5.00" height="26.25" fill="#fff" />
<line x1="728.20" y1="318.75" x2="728.20" y2="345.00" stroke="#9a9a9a" stroke-width="0.5" />
<line x1="730.50" y1="318.75" x2="730.50" y2="345.00" stroke="#9a9a9a" stroke-width="0.5" />
<line x1="732.80" y1="318.75" x2="732.80" y2="345.00" stroke="#9a9a9a" stroke-width="0.5" />
<rect x="754.00" y="260.30" width="4.00" height="4.70" fill="#000" />
<line x1="755.60" y1="260.60" x2="738.90" y2="247.20" stroke="#000" stroke-width="1.4" />
<path d="M738.9,247.2 Q735,253 734.4,260" fill="none" stroke="#8a8a8a" stroke-width="0.45" />
<line x1="733.00" y1="276.30" x2="756.60" y2="276.30" stroke="#c4c4c4" stroke-width="0.5" />
<polygon points="744.75,270.00 743.50,273.20 746.00,273.20" fill="#000" />
<line x1="744.75" y1="273.20" x2="744.75" y2="280.50" stroke="#777" stroke-width="0.5" />
<rect x="739.20" y="325.50" width="12.00" height="14.70" fill="none" stroke="#8a8a8a" stroke-width="0.7" stroke-dasharray="0.8 1.45"/>
<line x1="739.20" y1="325.50" x2="751.20" y2="340.20" stroke="#cfcfcf" stroke-width="0.4" />
<line x1="751.20" y1="325.50" x2="739.20" y2="340.20" stroke="#cfcfcf" stroke-width="0.4" />
<line x1="743.70" y1="331.00" x2="746.70" y2="334.70" stroke="#a0a0a0" stroke-width="0.5" />
<line x1="746.70" y1="331.00" x2="743.70" y2="334.70" stroke="#a0a0a0" stroke-width="0.5" />
<polygon points="698.60,156.30 697.15,159.70 700.05,159.70" fill="#000" />
<line x1="698.60" y1="159.70" x2="698.60" y2="163.30" stroke="#c4c4c4" stroke-width="0.5" />
<polygon points="698.50,370.60 697.05,367.20 699.95,367.20" fill="#000" />
<line x1="698.50" y1="367.20" x2="698.50" y2="363.60" stroke="#c4c4c4" stroke-width="0.5" />
<polygon points="669.90,207.00 673.30,205.55 673.30,208.45" fill="#000" />
<line x1="673.30" y1="207.00" x2="676.90" y2="207.00" stroke="#c4c4c4" stroke-width="0.5" />
<polygon points="756.60,207.00 753.20,205.55 753.20,208.45" fill="#000" />
<line x1="753.20" y1="207.00" x2="749.60" y2="207.00" stroke="#c4c4c4" stroke-width="0.5" />
<text x="697.30" y="257.40" font-size="8.1" text-anchor="middle" font-weight="normal" fill="#000" stroke="#000" stroke-width="0.16">Loft Room</text>
<text x="697.30" y="267.40" font-size="8.1" text-anchor="middle" font-weight="normal" fill="#000" stroke="#000" stroke-width="0.16">7.42 x 3.00</text>
<text x="697.30" y="277.30" font-size="8.1" text-anchor="middle" font-weight="normal" fill="#000" stroke="#000" stroke-width="0.16">24'4 x 9'10</text>
<text x="622.30" y="265.00" font-size="8.1" text-anchor="middle" font-weight="normal" fill="#000" stroke="#000" stroke-width="0.16">Eaves Storage</text>
<text x="570.1" y="496.0" font-size="12.35" fill="#000" stroke="#000" stroke-width="0.18">Second Floor</text>
<text y="548.9" font-size="10.5" fill="#000" stroke="#000" stroke-width="0.15"><tspan x="149.3" textLength="48.60" lengthAdjust="spacingAndGlyphs">Illustration</tspan> <tspan x="202.6" textLength="14.00" lengthAdjust="spacingAndGlyphs">for</tspan> <tspan x="219.6" textLength="60.80" lengthAdjust="spacingAndGlyphs">identification</tspan> <tspan x="283.9" textLength="40.70" lengthAdjust="spacingAndGlyphs">purposes</tspan> <tspan x="328.6" textLength="22.00" lengthAdjust="spacingAndGlyphs">only,</tspan> <tspan x="354.1" textLength="69.00" lengthAdjust="spacingAndGlyphs">measurements</tspan> <tspan x="427.4" textLength="13.90" lengthAdjust="spacingAndGlyphs">are</tspan> <tspan x="444.9" textLength="59.00" lengthAdjust="spacingAndGlyphs">approximate,</tspan> <tspan x="508.9" textLength="16.20" lengthAdjust="spacingAndGlyphs">not</tspan> <tspan x="528.6" textLength="9.00" lengthAdjust="spacingAndGlyphs">to</tspan> <tspan x="541.1" textLength="25.20" lengthAdjust="spacingAndGlyphs">scale.</tspan></text>
</svg>
</body>
</html>
